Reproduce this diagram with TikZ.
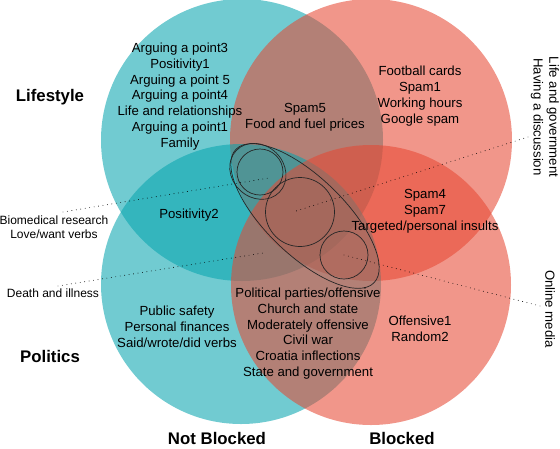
\documentclass[tikz,border=0pt]{standalone}
\usepackage{fontspec}
\setmainfont{Liberation Sans}
\usetikzlibrary{calc}
\definecolor{vennteal}{RGB}{6,164,174}
\definecolor{vennsalmon}{RGB}{230,71,50}
\begin{document}
\begin{tikzpicture}[x=1pt,y=-1pt,
        venn/.style={fill opacity=0.57},
        ring/.style={draw=black!85, line width=0.7pt},
        leader/.style={line width=0.9pt, line cap=round, dash pattern=on 0pt off 4.5pt},
        lbl/.style={align=center, font=\fontsize{13.2}{15.8}\selectfont, inner sep=0pt},
        small/.style={align=center, font=\fontsize{12}{14}\selectfont, inner sep=0pt},
        head/.style={font=\fontsize{16.8}{20}\selectfont\bfseries, inner sep=0pt}]
    \useasboundingbox (0,0) rectangle (560,448);

        \coordinate (LN) at (242,140);
        \coordinate (LB) at (371,140);
        \coordinate (PN) at (241,284);
        \coordinate (PB) at (371,285);

        \fill[vennteal, venn] (LN) circle (141pt);
        \fill[vennsalmon, venn] (LB) circle (141pt);
        \fill[vennteal, venn] (PN) circle (140pt);
        \fill[vennsalmon, venn] (PB) circle (140pt);

    % Groups
        \coordinate (E) at (305,216);
        \coordinate (C1) at (260,172);
        \coordinate (C2) at (300,212);
        \coordinate (C3) at (344,255);

        \draw[ring, rotate around={-44:(E)}] (E) ellipse [x radius=96pt, y radius=39pt];
        \draw[ring, rotate around={-44:(C1)}] ($(C1)+(-2,1)$) ellipse [x radius=30pt, y radius=26pt];
        \draw[ring] (C1) circle (23pt);
        \draw[ring] (C2) circle (34.5pt);
        \draw[ring] (C3) circle (24pt);

    % Labels
    \node[head] (lifestyle) at (50,97) {Lifestyle};
    \node[head] (politics) at (50,356) {Politics};
    \node[head] (notblocked) at (217,438) {Not Blocked};
    \node[head] (blocked) at (402,438) {Blocked};

    \node[lbl] (lifelist) at (180,96.5) {Arguing a point3\\Positivity1\\Arguing a point 5\\Arguing a point4\\Life and relationships\\Arguing a point1\\Family};
    \node[lbl] (spamfive) at (305,117.5) {Spam5\\Food and fuel prices};
    \node[lbl] (footlist) at (420,96) {Football cards\\Spam1\\Working hours\\Google spam};
    \node[lbl] (postwo) at (189,215) {Positivity2};
    \node[lbl] (spamfour) at (425,211) {Spam4\\Spam7\\Targeted/personal insults};
    \node[lbl] (publiclist) at (177,326.5) {Public safety\\Personal finances\\Said/wrote/did verbs};
    \node[lbl] (partylist) at (308,333.5) {Political parties/offensive\\Church and state\\Moderately offensive\\Civil war\\Croatia inflections\\State and government};
    \node[lbl] (offlist) at (420,328.5) {Offensive1\\Random2};

    \node[small] (biomed) at (54,227) {Biomedical research\\Love/want verbs};
    \node[small] (death) at (53,293) {Death and illness};
    \node[lbl, rotate=-90] (lifegov) at (545,117) {Life and government\\Having a discussion};
    \node[lbl, rotate=-90] (online) at (550,309) {Online media};

    % Leaders
        \coordinate (biomedEnd) at (63,212);
        \coordinate (deathEnd) at (58,286);
        \coordinate (lifegovEnd) at (528,137);
        \coordinate (onlineEnd) at (540,306);
        \coordinate (deathIn) at (263,253);

        \draw[leader] (biomedEnd) -- ($(C1)+(9,6)$);
        \draw[leader] (deathEnd) -- (deathIn);
        \draw[leader] (lifegovEnd) -- ($(C2)+(-7,0)$);
        \draw[leader] (onlineEnd) -- (C3);
    \end{tikzpicture}
\end{document}
